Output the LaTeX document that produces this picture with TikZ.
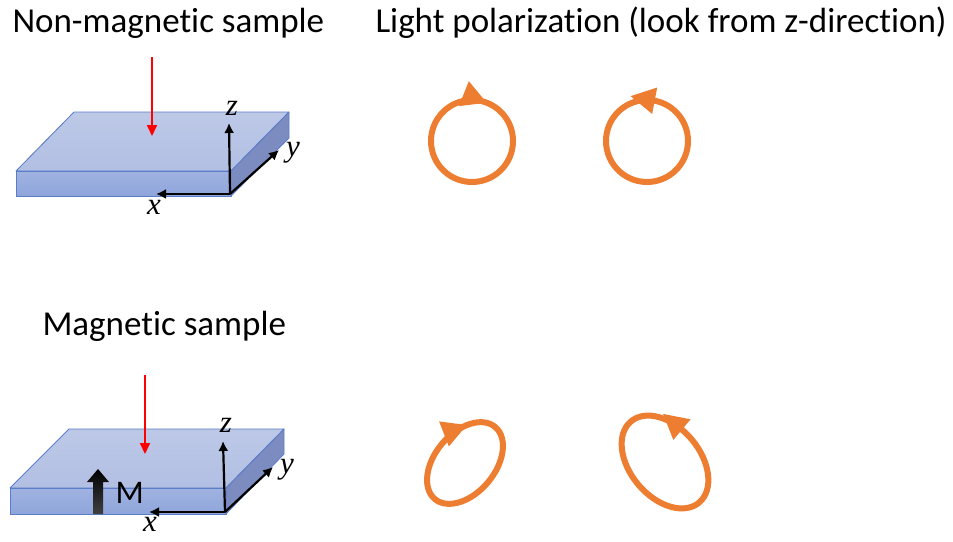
\documentclass[tikz,border=0pt]{standalone}
\usepackage{fontspec}
\setmainfont{Carlito}[Ligatures=NoCommon]
\newfontfamily\axfont{Liberation Serif}
\usetikzlibrary{
    arrows.meta,
    decorations.markings,
    positioning
}
\definecolor{pol}{HTML}{ED7D31}
\definecolor{slabtop}{HTML}{B2BFE3}
\definecolor{slabfront}{HTML}{8FA5DB}
\definecolor{slabside}{HTML}{7C8BC0}
\definecolor{slabedge}{HTML}{5A7DC9}
\tikzset{title/.style={anchor=base west, font=\fontsize{35}{42}\selectfont}}
\tikzset{axlab/.style={font=\axfont\itshape\fontsize{31}{36}\selectfont}}
\tikzset{axis/.style={line width=2.2pt, -{Latex[length=10pt,width=10pt]}}}
\tikzset{beam/.style={line width=2pt, red, -{Triangle[length=11pt,width=10pt]}}}
\tikzset{face/.style={draw=slabedge, line width=0.8pt, line join=round}}
\tikzset{cw/.style={pol, line width=6pt, postaction={decorate, decoration={markings,
    mark=at position #1 with {\arrow{Triangle[length=25pt,width=25pt]}}}}}}
\tikzset{ccw/.style={pol, line width=6pt, postaction={decorate, decoration={markings,
    mark=at position #1 with {\arrow{Triangle[reversed,length=25pt,width=25pt]}}}}}}

\begin{document}
\begin{tikzpicture}[x=1pt, y=-1pt]
    \useasboundingbox (0, 0) rectangle (953, 541);

    \node[title] (t1) at (9, 32) {Non-magnetic sample};
    \node[title] (t2) at (372, 32) {Light polarization (look from z-direction)};
    \node[title] (t3) at (39, 335) {Magnetic sample};

    % upper slab
    \fill[face, top color=slabtop!85!white, bottom color=slabtop]
        (16, 171) -- (74, 112) -- (289, 112) -- (231, 171) -- cycle;
    \fill[face, top color=slabfront!85!white, bottom color=slabfront]
        (16, 171) rectangle (231, 196);
    \fill[face, fill=slabside]
        (231, 171) -- (289, 112) -- (289, 138) -- (231, 196) -- cycle;

    \coordinate (b1s) at (152, 57);
    \coordinate (b1e) at (152, 136);
    \draw[beam] (b1s) -- (b1e);

    \coordinate (o1) at (230, 194);
    \coordinate (x1) at (156, 194);
    \coordinate (y1) at (279, 150);
    \coordinate (z1) at (229, 123);
    \draw[axis] (o1) -- (x1);
    \draw[axis] (o1) -- (y1);
    \draw[axis] (o1) -- (z1);
    \node[axlab] (lx1) at (154, 207) {x};
    \node[axlab] (ly1) at (293, 153) {y};
    \node[axlab] (lz1) at (232, 108) {z};

    % lower slab
    \fill[face, top color=slabtop!85!white, bottom color=slabtop]
        (10, 488) -- (69, 429) -- (284, 429) -- (226, 488) -- cycle;
    \fill[face, top color=slabfront!85!white, bottom color=slabfront]
        (10, 488) rectangle (226, 514);
    \fill[face, fill=slabside]
        (226, 488) -- (284, 429) -- (284, 454) -- (226, 514) -- cycle;

    \coordinate (b2s) at (145, 375);
    \coordinate (b2e) at (145, 454);
    \draw[beam] (b2s) -- (b2e);

    \shade[top color=black, bottom color=black!75]
        (93, 514) -- (93, 482) -- (87, 482) -- (98, 469) -- (109, 482)
        -- (103, 482) -- (103, 514) -- cycle;
    \node[title, font=\fontsize{33}{38}\selectfont] (m) at (112, 503) {M};

    \coordinate (o2) at (225, 512);
    \coordinate (x2) at (149, 512);
    \coordinate (y2) at (273, 467);
    \coordinate (z2) at (223, 441);
    \draw[axis] (o2) -- (x2);
    \draw[axis] (o2) -- (y2);
    \draw[axis] (o2) -- (z2);
    \node[axlab] (lx2) at (150, 524) {x};
    \node[axlab] (ly2) at (287, 470) {y};
    \node[axlab] (lz2) at (226, 425) {z};

    % polarization states
    \coordinate (c1) at (472, 141);
    \coordinate (c2) at (647, 141);
    \coordinate (c3) at (465, 463);
    \coordinate (c4) at (665, 462);
    \draw[cw=0.81] (c1) circle [radius=41];
    \draw[ccw=0.78] (c2) circle [radius=41];
    \draw[cw=0.88, rotate around={50:(c3)}] (c3) ellipse [x radius=47, y radius=30];
    \draw[ccw=0.70, rotate around={-50:(c4)}] (c4) ellipse [x radius=53, y radius=35];
\end{tikzpicture}
\end{document}
